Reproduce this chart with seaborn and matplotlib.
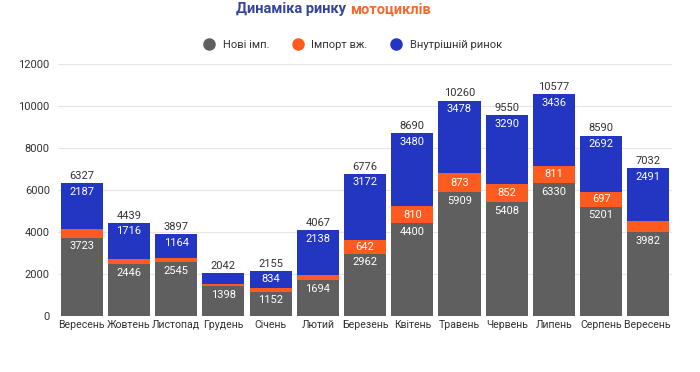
import matplotlib
matplotlib.use("Agg")
import matplotlib.pyplot as plt
import seaborn as sns
import pandas as pd
import numpy as np

months = ["Вересень", "Жовтень", "Листопад", "Грудень", "Січень", "Лютий", "Березень",
          "Квітень", "Травень", "Червень", "Липень", "Серпень", "Вересень "]
new_imp = [3723, 2446, 2545, 1398, 1152, 1694, 2962, 4400, 5909, 5408, 6330, 5201, 3982]
used_imp = [417, 277, 188, 140, 169, 235, 642, 810, 873, 852, 811, 697, 559]
domestic = [2187, 1716, 1164, 504, 834, 2138, 3172, 3480, 3478, 3290, 3436, 2692, 2491]
totals = [6327, 4439, 3897, 2042, 2155, 4067, 6776, 8690, 10260, 9550, 10577, 8590, 7032]
series_names = ["Нові імп.", "Імпорт вж.", "Внутрішній ринок"]
colors = ["#5f5f5f", "#ff5a1f", "#2236c2"]

sns.set_theme(style="white")
plt.rcParams["font.family"] = ["Roboto", "DejaVu Sans"]

df = pd.DataFrame({"month": months, "new": new_imp, "used": used_imp, "dom": domestic})
fig = plt.figure(figsize=(7, 3.72), dpi=100)
ax = fig.add_axes([0.083, 0.151, 0.877, 0.677])

bottom1 = np.array(new_imp)
bottom2 = bottom1 + np.array(used_imp)
w = 0.89
kw = dict(width=w, ax=ax, saturation=1, linewidth=0, edgecolor="none")
sns.barplot(data=df, x="month", y="new", color=colors[0], **kw)
sns.barplot(data=df, x="month", y="used", color=colors[1], bottom=bottom1, **kw)
sns.barplot(data=df, x="month", y="dom", color=colors[2], bottom=bottom2, **kw)

ax.set_ylim(0, 12000)
ax.set_xlim(-0.5, len(months) - 0.5)
ax.set_yticks([0, 2000, 4000, 6000, 8000, 10000, 12000])
ax.yaxis.grid(True, color="#e6e6e6", linewidth=0.8)
ax.set_axisbelow(True)
for s in ax.spines.values():
    s.set_visible(False)
ax.set_xlabel("")
ax.set_ylabel("")
ax.tick_params(axis="y", length=0, labelsize=8, colors="#333333", pad=6)
ax.tick_params(axis="x", length=0, labelsize=7.6, colors="#333333", pad=3)

thr = 600
for i in range(len(months)):
    if new_imp[i] >= thr:
        ax.text(i, new_imp[i] - 180, str(new_imp[i]), ha="center", va="top", color="white", fontsize=8)
    if used_imp[i] >= thr:
        ax.text(i, new_imp[i] + used_imp[i] / 2, str(used_imp[i]), ha="center", va="center",
                color="white", fontsize=8)
    if domestic[i] >= thr:
        ax.text(i, totals[i] - 180, str(domestic[i]), ha="center", va="top", color="white", fontsize=8)
    ax.text(i, totals[i] + 100, str(totals[i]), ha="center", va="bottom", color="#333333", fontsize=8)

# title
fig.text(0.5, 0.975, "Динаміка ринку ", ha="right", va="center", color="#34449a",
         fontsize=10.5, fontweight="bold")
fig.text(0.5, 0.975, "мотоциклів", ha="left", va="center", color="#f26a2e",
         fontsize=10.5, fontweight="bold")

# legend
from matplotlib.lines import Line2D
handles = [Line2D([0], [0], marker="o", linestyle="", markersize=8, markerfacecolor=c,
                  markeredgecolor=c) for c in colors]
fig.legend(handles, series_names, loc="center", bbox_to_anchor=(0.5, 0.878), ncol=3,
           frameon=False, fontsize=8, handletextpad=0.2, columnspacing=1.6, labelcolor="#333333")

fig.savefig("out.png", dpi=100)
